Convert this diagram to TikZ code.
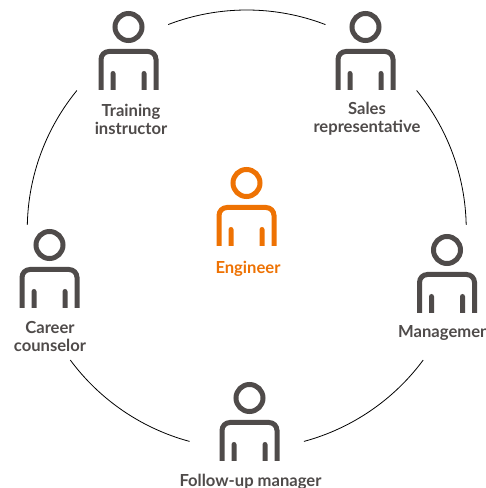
\documentclass[tikz,border=0pt]{standalone}
\usepackage{fontspec}
\setmainfont{Lato}
\definecolor{icondark}{HTML}{4F4B4A}
\definecolor{iconorange}{HTML}{EE7203}
\tikzset{
  x=1pt,y=1pt,
  ring/.style={draw=black,line width=0.8pt},
  caption/.style={font=\fontsize{16.6}{18}\selectfont\bfseries,text=icondark,align=center,inner sep=0pt,anchor=center},
  pics/person/.style={code={
    \draw[#1,line width=5pt] (0,0) circle[radius=13.5];
    \draw[#1,line width=5pt,rounded corners=8pt] (-27.5,-63) -- (-27.5,-24.5) -- (27.5,-24.5) -- (27.5,-63);
    \fill[#1] (-18,-63) -- (-18,-46.5) arc[start angle=180,end angle=0,radius=2.5] -- (-13,-63) -- cycle;
    \fill[#1] (13,-63) -- (13,-46.5) arc[start angle=180,end angle=0,radius=2.5] -- (18,-63) -- cycle;
  }}
}
\begin{document}
\begin{tikzpicture}
\useasboundingbox (0,0) rectangle (486,488);
\clip (0,0) rectangle (486,488);
\coordinate (c) at (246.75,258.5);
\def\R{219.5}
\foreach \a/\b in {110.97/69, 39.3/1.2, -36.5/-74.9, -105.1/-143.5, 178.8/140.7}{
  \draw[ring] ([shift={(c)}]\a:\R) arc[start angle=\a,end angle=\b,radius=\R];
}
\pic at (128.5,461) {person=icondark};
\pic at (365.5,461) {person=icondark};
\pic at (246.5,305) {person=iconorange};
\pic at (49.5,243) {person=icondark};
\pic at (447,238) {person=icondark};
\pic at (249.5,90) {person=icondark};
\node[caption] (training) at (131,369) {Training\\instructor};
\node[caption] (sales) at (367,369) {Sales\\representative};
\node[caption,text=iconorange] (engineer) at (248,219.5) {Engineer};
\node[caption] (career) at (50,151.5) {Career\\counselor};
\node[caption,anchor=west] (mgmt) at (398,155) {Management};
\node[caption] (followup) at (250.5,6) {Follow-up manager};
\end{tikzpicture}
\end{document}
